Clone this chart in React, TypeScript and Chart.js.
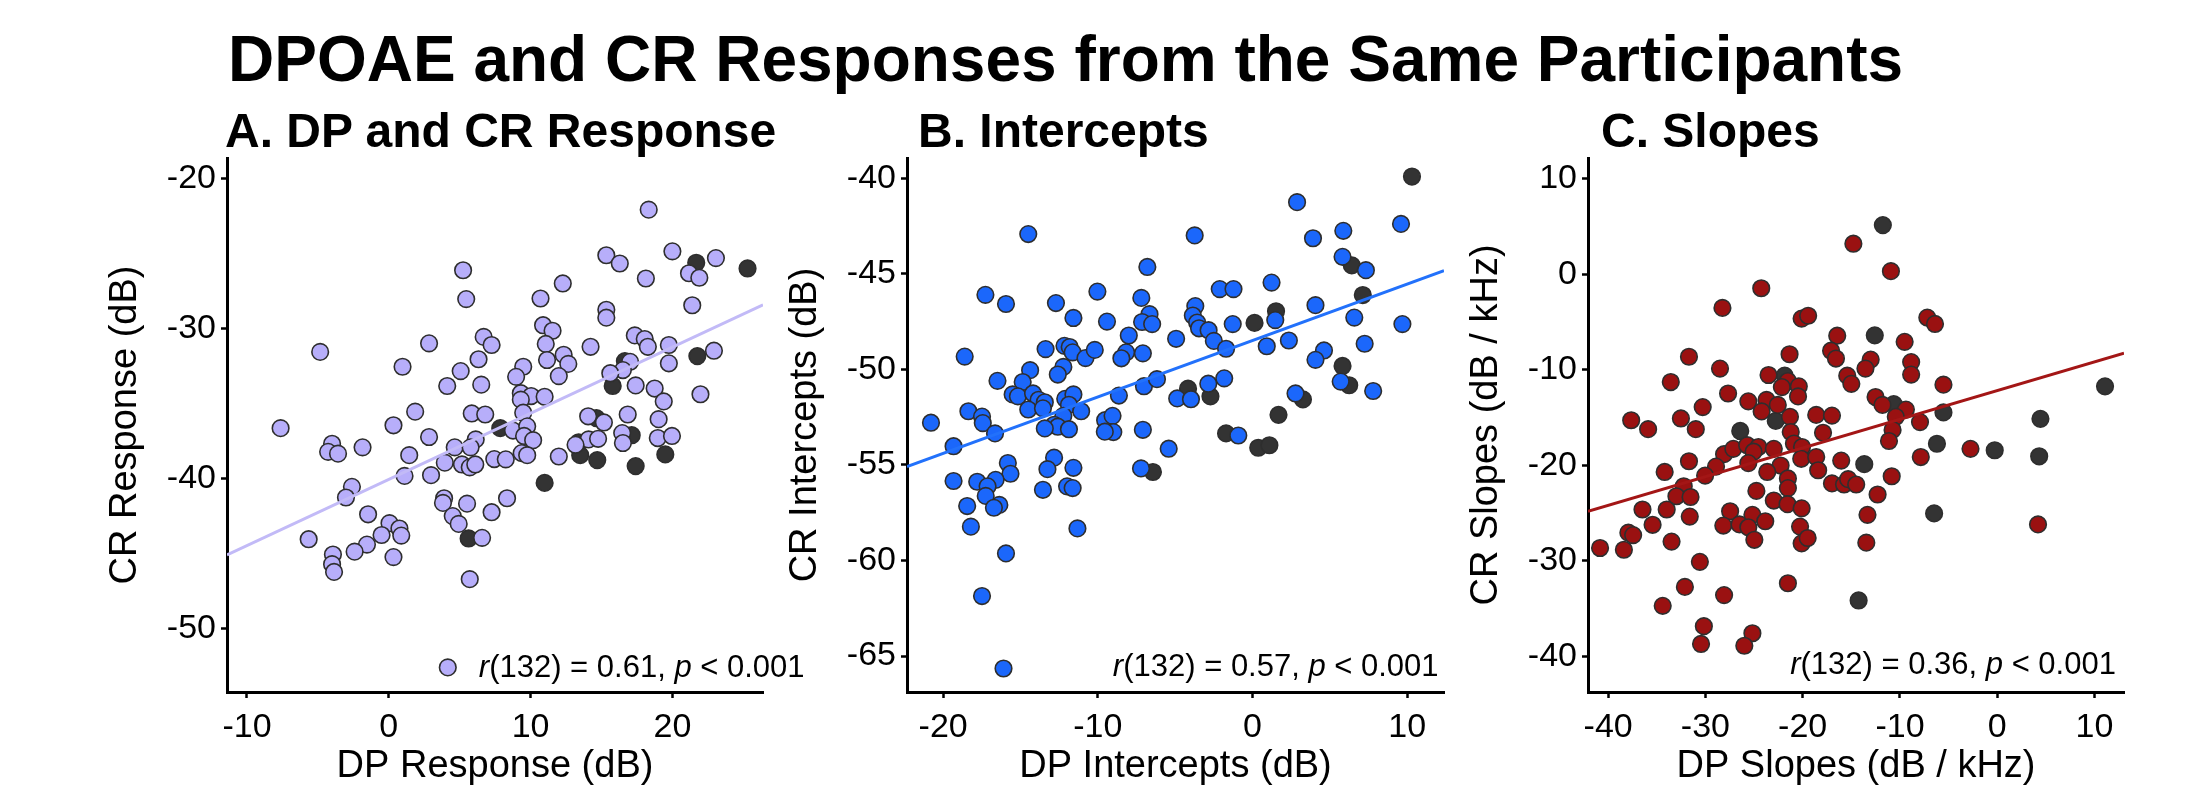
import React, { useEffect, useRef } from 'react';
import { Chart, registerables } from 'chart.js';

Chart.register(...registerables);

const FONT = '"Liberation Sans", Arial, Helvetica, sans-serif';

// ---------- Panel A: DP and CR Response ----------
const aX = [18.33, 20.0, 15.34, 16.29, 23.07, 21.17, 21.9, 18.13, 5.24, 12.27, 5.46, 10.7, 21.4, 15.34, 15.34, 10.88, 11.55, 6.69, 17.35, 18.05, 18.27, 7.25, 2.84, 11.07, 14.23, 19.75, -4.84, 22.93, 12.33, 12.66, 11.16, 19.75, 17.02, 6.33, 0.97, 9.48, 8.98, 16.51, 15.62, 11.99, 5.07, 4.12, 6.52, 17.41, 18.75, 19.39, 21.98, 9.31, 10.04, 9.31, 10.99, 1.86, 5.85, 6.8, 9.48, 16.85, 19.03, 14.06, 15.17, -7.63, 0.33, 8.76, 9.76, 2.84, 9.54, 6.13, 10.18, 16.46, 18.97, 19.97, 14.09, 14.76, 13.17, 16.51, -4.0, -4.28, -3.58, -1.85, 4.65, 5.77, 1.44, 9.37, 9.76, 11.99, 7.44, 8.25, 3.95, 5.16, 5.71, 6.1, 1.11, 2.98, -2.6, -3.02, 3.9, 3.82, 5.52, 8.34, 7.25, -1.46, 0.05, 4.51, 4.93, 0.75, 0.88, -0.51, -5.65, 6.58, -1.54, -2.41, 0.33, -3.94, -4.0, -3.86, 5.71, 4.16];
const aY = [-22.06, -24.84, -25.1, -25.65, -25.29, -26.3, -26.6, -26.65, -26.1, -26.98, -28.02, -27.98, -28.43, -28.73, -29.26, -29.76, -30.13, -30.54, -30.44, -30.68, -31.2, -31.08, -30.97, -31.01, -31.2, -31.08, -31.54, -31.46, -31.73, -32.34, -32.08, -32.3, -32.2, -32.03, -32.53, -32.53, -33.2, -32.75, -32.96, -33.15, -32.82, -33.81, -33.72, -33.77, -33.98, -34.84, -34.36, -34.29, -34.48, -34.72, -34.53, -35.52, -35.64, -35.71, -35.59, -35.71, -36.02, -35.83, -36.24, -36.62, -36.43, -36.78, -36.5, -37.21, -37.14, -37.37, -37.42, -36.95, -37.28, -37.14, -37.37, -37.33, -37.73, -37.61, -37.66, -38.2, -38.32, -37.9, -37.9, -37.9, -38.42, -38.28, -38.42, -38.51, -38.68, -38.7, -38.92, -39.04, -39.23, -39.04, -39.8, -39.75, -40.53, -41.24, -41.29, -41.6, -41.65, -41.29, -42.22, -42.36, -42.95, -42.48, -43.0, -43.31, -43.78, -43.74, -44.02, -43.93, -44.38, -44.85, -45.21, -45.04, -45.68, -46.2, -46.68, -52.56];
const aDarkX = [21.68, 25.3, 21.76, 16.65, 15.79, 14.64, 7.86, 17.13, 13.39, 13.5, 14.7, 17.41, 19.5, 10.99, 5.63];
const aDarkY = [-25.6, -25.98, -31.82, -32.15, -33.81, -35.95, -36.62, -37.09, -37.56, -38.42, -38.75, -39.15, -38.37, -40.27, -43.97];
const aFitX = [-11.41, 26.39];
const aFitY = [-45.07, -28.4];
const aTicksX = [-10, 0, 10, 20];
const aTicksY = [-50, -40, -30, -20];

// ---------- Panel B: Intercepts ----------
const bX = [2.88, 9.6, -14.5, -3.74, 3.91, 5.87, 5.82, -6.8, 7.33, 1.23, -17.27, -10.03, -2.12, -1.23, -15.94, -12.71, -7.19, -3.7, 4.07, -6.66, -11.58, -9.41, -7.14, -6.49, -3.86, -3.58, -3.46, -2.84, -1.28, 1.47, 6.58, 9.69, -8.0, -4.94, -2.5, 2.35, 7.25, -18.61, -13.38, -12.16, -11.82, -11.63, -10.8, -10.2, -8.17, -8.48, -7.09, -1.71, 0.92, 4.62, 4.07, -14.38, -12.23, -12.59, -16.49, -14.86, -7.02, -6.18, -1.83, -2.86, 5.7, 7.8, -15.51, -15.17, -14.19, -13.83, -13.43, -14.5, -13.55, -12.11, -11.58, -11.87, -11.08, -12.23, -8.64, -4.87, -3.98, 2.78, -18.37, -17.49, -17.44, -16.65, -20.79, -12.83, -12.59, -13.43, -11.87, -9.53, -9.05, -9.0, -9.55, -7.09, -0.92, -19.33, -5.42, -12.83, -13.26, -11.58, -15.82, -15.65, -7.21, -19.33, -17.8, -16.61, -17.13, -17.25, -16.37, -16.72, -13.55, -11.99, -11.63, -18.45, -18.21, -11.32, -15.94, -17.49, -16.1];
const bY = [-41.25, -42.39, -42.92, -42.99, -43.14, -42.75, -44.11, -44.64, -44.81, -45.46, -46.1, -45.93, -45.8, -45.8, -46.58, -46.53, -46.26, -46.69, -46.64, -47.11, -47.31, -47.5, -47.52, -47.63, -47.18, -47.55, -47.85, -47.95, -47.63, -47.42, -47.29, -47.63, -48.23, -48.4, -48.51, -48.49, -48.66, -49.33, -48.94, -48.77, -48.83, -49.11, -49.41, -48.98, -49.11, -49.42, -49.16, -48.92, -48.79, -49.01, -49.5, -50.04, -49.87, -50.27, -50.6, -50.66, -50.88, -50.51, -50.47, -50.75, -50.64, -51.13, -51.31, -51.41, -51.26, -51.59, -51.72, -52.1, -52.04, -51.54, -51.31, -51.85, -52.19, -52.43, -51.37, -51.52, -51.56, -51.26, -52.19, -52.47, -52.81, -53.35, -52.79, -52.9, -53.0, -53.09, -53.13, -52.66, -52.43, -53.28, -53.26, -53.16, -53.46, -54.02, -54.15, -54.62, -55.22, -55.15, -54.9, -55.46, -55.18, -55.84, -55.88, -55.78, -56.12, -56.62, -57.09, -57.24, -56.3, -56.12, -56.21, -57.15, -58.23, -58.32, -59.63, -61.86, -65.65];
const bDarkX = [10.31, 6.42, 7.13, 1.52, 0.13, 5.82, 6.25, -4.17, -2.72, 3.26, 1.68, -1.71, 0.37, 1.09, -6.44];
const bDarkY = [-39.91, -44.56, -46.11, -46.96, -47.57, -49.82, -50.83, -51.01, -51.41, -51.57, -52.38, -53.35, -54.1, -53.97, -55.37];
const bFitX = [-22.34, 12.38];
const bFitY = [-55.09, -44.84];
const bTicksX = [-20, -10, 0, 10];
const bTicksY = [-65, -60, -55, -50, -45, -40];

// ---------- Panel C: Slopes ----------
const cX = [-14.79, -10.93, -24.26, -28.25, -20.11, -19.44, -7.19, -6.4, -16.45, -9.52, -31.69, -21.35, -17.08, -16.58, -13.01, -13.55, -8.85, -8.85, -28.5, -33.56, -23.51, -21.52, -22.14, -20.4, -20.48, -15.42, -15.0, -5.53, -27.67, -25.59, -23.72, -22.56, -24.22, -12.51, -11.8, -9.39, -10.43, -30.28, -37.63, -35.89, -32.52, -30.99, -18.61, -16.99, -21.31, -17.91, -7.94, -10.76, -11.13, -21.23, -20.9, -20.07, -28.08, -27.13, -25.71, -24.55, -25.05, -22.97, -25.59, -31.69, -20.15, -18.61, -16.04, -7.86, -2.75, -28.91, -22.27, -18.41, -23.64, -30.03, -34.19, -21.52, -10.85, -21.52, -16.99, -15.75, -15.33, -14.5, -32.23, -32.98, -31.53, -24.76, -22.97, -21.56, -20.11, -12.3, -36.47, -33.98, -31.61, -27.46, -25.17, -13.34, -35.43, -28.16, -26.5, -25.59, -23.85, -20.27, 4.19, -37.92, -37.43, -40.83, -38.38, -33.48, -24.97, -20.11, -19.49, -13.46, -30.57, -32.11, -34.39, -28.08, -21.52, -30.16, -25.17, -30.45, -26.0];
const cY = [3.2, 0.33, -1.46, -3.52, -4.64, -4.34, -4.53, -5.2, -6.43, -7.07, -8.63, -8.37, -8.0, -8.82, -8.93, -9.87, -9.19, -10.5, -9.87, -11.28, -10.54, -11.17, -11.81, -11.73, -12.78, -10.61, -11.47, -11.55, -12.48, -13.3, -13.15, -13.67, -14.35, -12.85, -13.67, -14.16, -14.91, -13.9, -15.28, -16.21, -15.09, -16.21, -14.72, -14.79, -14.91, -16.59, -15.47, -16.29, -17.45, -16.51, -17.71, -18.08, -18.83, -18.27, -17.89, -18.08, -18.57, -18.27, -19.76, -19.57, -19.31, -19.13, -19.5, -19.13, -18.27, -20.13, -20.02, -20.51, -20.69, -21.07, -20.69, -21.37, -21.14, -22.38, -21.89, -22.0, -21.44, -22.0, -22.19, -23.23, -23.31, -22.67, -23.68, -24.06, -24.5, -23.05, -24.62, -24.62, -25.36, -24.8, -25.18, -25.18, -26.22, -26.3, -26.18, -26.48, -25.85, -26.41, -26.18, -27.04, -27.3, -28.65, -28.83, -27.98, -27.79, -28.16, -27.6, -28.09, -30.1, -32.72, -34.7, -33.58, -32.34, -36.83, -37.57, -38.69, -38.88];
const cDarkX = [-11.76, -12.59, -21.85, -22.77, -26.42, -10.64, -5.53, 11.08, -6.2, -0.26, 4.44, 4.31, -13.67, -6.49, -14.25];
const cDarkY = [5.15, -6.39, -10.61, -15.35, -16.4, -13.6, -14.46, -11.73, -17.74, -18.42, -15.13, -19.05, -19.87, -25.03, -34.14];
const cFitX = [-42.07, 13.03];
const cFitY = [-24.8, -8.26];
const cTicksX = [-40, -30, -20, -10, 0, 10];
const cTicksY = [-40, -30, -20, -10, 0, 10];

const statLabels = ['0.61', '0.57', '0.36'];

const toPts = (xs: number[], ys: number[]) => xs.map((x, i) => ({ x, y: ys[i] }));

type PanelSpec = {
  title: string; xTitle: string; yTitle: string;
  x: number[]; y: number[]; dx: number[]; dy: number[];
  fitX: number[]; fitY: number[]; ticksX: number[]; ticksY: number[];
  xMin: number; xMax: number; yMin: number; yMax: number;
  fill: string; line: string; stat: string; annX: number; annY: number;
  left: number; right: number; titleLeft: number;
};

const panels: PanelSpec[] = [
  {
    title: 'A. DP and CR Response', xTitle: 'DP Response (dB)', yTitle: 'CR Response (dB)',
    x: aX, y: aY, dx: aDarkX, dy: aDarkY, fitX: aFitX, fitY: aFitY, ticksX: aTicksX, ticksY: aTicksY,
    xMin: -11.41, xMax: 26.39, yMin: -54.2, yMax: -18.62,
    fill: '#b7aefa', line: '#c2baf7', stat: statLabels[0], annX: 29.32, annY: -52.6,
    left: 227, right: 763, titleLeft: 225,
  },
  {
    title: 'B. Intercepts', xTitle: 'DP Intercepts (dB)', yTitle: 'CR Intercepts (dB)',
    x: bX, y: bY, dx: bDarkX, dy: bDarkY, fitX: bFitX, fitY: bFitY, ticksX: bTicksX, ticksY: bTicksY,
    xMin: -22.34, xMax: 12.38, yMin: -66.88, yMax: -38.94,
    fill: '#1b67fb', line: '#2271fb', stat: statLabels[1], annX: 12.03, annY: -65.58,
    left: 907, right: 1444, titleLeft: 918,
  },
  {
    title: 'C. Slopes', xTitle: 'DP Slopes (dB / kHz)', yTitle: 'CR Slopes (dB / kHz)',
    x: cX, y: cY, dx: cDarkX, dy: cDarkY, fitX: cFitX, fitY: cFitY, ticksX: cTicksX, ticksY: cTicksY,
    xMin: -42.07, xMax: 13.03, yMin: -43.72, yMax: 12.17,
    fill: '#9a1111', line: '#a31616', stat: statLabels[2], annX: 12.2, annY: -40.89,
    left: 1588, right: 2124, titleLeft: 1601,
  },
];

const H = 786;
const PAD = 80;
const YW = 120;
const XH = 94;

function Panel({ p }: { p: PanelSpec }) {
  const ref = useRef<HTMLCanvasElement | null>(null);
  const cl = p.left - YW - PAD;
  const w = p.right - p.left + YW + PAD * 2;

  useEffect(() => {
    if (!ref.current) return;
    const annPlugin = {
      id: 'annText',
      afterDraw(chart: any) {
        const ctx = chart.ctx;
        const xs = chart.scales.x;
        const ys = chart.scales.y;
        const px = xs.getPixelForValue(p.annX);
        const py = ys.getPixelForValue(p.annY);
        const size = 31;
        const parts = [
          { t: 'r', it: true },
          { t: '(132) = ' + p.stat + ', ', it: false },
          { t: 'p', it: true },
          { t: ' < 0.001', it: false },
        ];
        ctx.save();
        ctx.fillStyle = '#000';
        ctx.textBaseline = 'middle';
        ctx.textAlign = 'left';
        let total = 0;
        const widths = parts.map((s) => {
          ctx.font = (s.it ? 'italic ' : '') + size + 'px ' + FONT;
          const m = ctx.measureText(s.t).width;
          total += m;
          return m;
        });
        let cx = px - total;
        parts.forEach((s, i) => {
          ctx.font = (s.it ? 'italic ' : '') + size + 'px ' + FONT;
          ctx.fillText(s.t, cx, py);
          cx += widths[i];
        });
        ctx.restore();
      },
    };

    const axisCommon = {
      type: 'linear' as const,
      border: { display: true, color: '#000', width: 3 },
      grid: {
        display: true, drawOnChartArea: false, drawTicks: true,
        tickLength: 6, tickWidth: 2.5, tickColor: '#000', color: '#000',
      },
    };

    const chart = new Chart(ref.current, {
      type: 'scatter',
      data: {
        datasets: [
          {
            type: 'line',
            data: toPts(p.fitX, p.fitY),
            borderColor: p.line,
            borderWidth: 3,
            pointRadius: 0,
            fill: false,
            order: 0,
          } as any,
          {
            data: toPts(p.x, p.y),
            backgroundColor: p.fill,
            borderColor: '#2e2e2e',
            borderWidth: 1.6,
            pointRadius: 8.3,
            order: 1,
          },
          {
            data: toPts(p.dx, p.dy),
            backgroundColor: '#333333',
            borderColor: '#2e2e2e',
            borderWidth: 1.6,
            pointRadius: 8.3,
            order: 2,
          },
        ],
      },
      options: {
        animation: false,
        responsive: false,
        devicePixelRatio: 1,
        events: [],
        layout: { autoPadding: false, padding: { left: PAD, right: PAD, top: 158, bottom: 0 } },
        plugins: { legend: { display: false }, tooltip: { enabled: false }, title: { display: false } },
        scales: {
          x: {
            ...axisCommon,
            position: 'bottom',
            min: p.xMin,
            max: p.xMax,
            afterBuildTicks: (s: any) => { s.ticks = p.ticksX.map((v) => ({ value: v })); },
            afterFit: (s: any) => { s.height = XH; },
            ticks: {
              color: '#000', padding: 13, maxRotation: 0, autoSkip: false,
              font: { family: FONT, size: 34, lineHeight: 1 },
              callback: (v: any) => String(v),
            },
            title: {
              display: true, text: p.xTitle, color: '#000', padding: 0,
              font: { family: FONT, size: 38, lineHeight: 1 },
            },
          },
          y: {
            ...axisCommon,
            position: 'left',
            min: p.yMin,
            max: p.yMax,
            afterBuildTicks: (s: any) => { s.ticks = p.ticksY.map((v) => ({ value: v })); },
            afterFit: (s: any) => { s.width = YW; },
            ticks: {
              color: '#000', padding: 5, autoSkip: false,
              font: { family: FONT, size: 34, lineHeight: 1 },
              callback: (v: any) => String(v),
            },
            title: {
              display: true, text: p.yTitle, color: '#000', padding: 0,
              font: { family: FONT, size: 38, lineHeight: 1 },
            },
          },
        },
      },
      plugins: [annPlugin],
    } as any);
    return () => chart.destroy();
  }, []);

  return (
    <>
      <canvas
        ref={ref}
        width={w}
        height={H}
        style={{ position: 'absolute', left: cl, top: 0, width: w, height: H }}
      />
      <div
        style={{
          position: 'absolute', left: p.titleLeft, top: 107, fontFamily: FONT,
          fontWeight: 'bold', fontSize: 48, lineHeight: 1, whiteSpace: 'nowrap', color: '#000',
        }}
      >
        {p.title}
      </div>
    </>
  );
}

export default function App() {
  return (
    <div
      style={{
        position: 'absolute', left: 0, top: 0, width: 2194, height: H,
        background: '#fff', overflow: 'hidden',
      }}
    >
      <div
        style={{
          position: 'absolute', left: 228, top: 27, fontFamily: FONT, fontWeight: 'bold',
          fontSize: 64, lineHeight: 1, whiteSpace: 'nowrap', color: '#000',
        }}
      >
        DPOAE and CR Responses from the Same Participants
      </div>
      {panels.map((p, i) => (
        <Panel key={i} p={p} />
      ))}
    </div>
  );
}
